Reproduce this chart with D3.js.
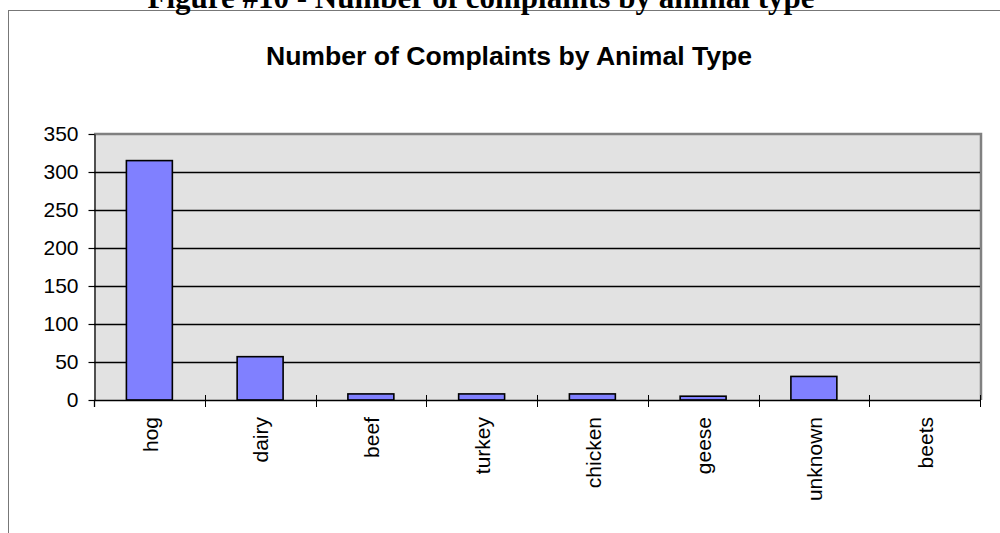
<!DOCTYPE html>
<html><head><meta charset="utf-8">
<script src="https://cdn.jsdelivr.net/npm/d3@7"></script>
<style>body{margin:0;background:#fff;}svg{display:block;}</style>
</head><body>
<svg id="c" width="1000" height="533"></svg>
<script>
const categories = ["hog","dairy","beef","turkey","chicken","geese","unknown","beets"];
const complaints = [315, 57, 8, 8, 8, 5, 31, 0];
const yTicks = [0, 50, 100, 150, 200, 250, 300, 350];
const figureTitle = "Figure #10 - Number of complaints by animal type";
const chartTitle = "Number of Complaints by Animal Type";

const svg = d3.select("#c");
const L = 94, R = 980, T = 134, B = 400;

// outer chart frame
svg.append("rect").attr("x", 8.5).attr("y", 10.5).attr("width", 1100).attr("height", 600)
  .attr("fill", "#fff").attr("stroke", "#777").attr("stroke-width", 1);

// figure caption (clipped at the top edge, as in the source)
svg.append("text").attr("x", 481).attr("y", 7.5).attr("text-anchor", "middle")
  .attr("font-family", "Liberation Serif, Times New Roman, serif").attr("font-weight", "bold")
  .attr("font-size", 31).attr("fill", "#000").text(figureTitle);

// chart title
svg.append("text").attr("x", 509).attr("y", 65).attr("text-anchor", "middle")
  .attr("font-family", "Liberation Sans, Arial, sans-serif").attr("font-weight", "bold")
  .attr("font-size", 26.6).attr("fill", "#000").text(chartTitle);

const x = d3.scaleBand().domain(categories).range([L, R]).paddingInner(0.585).paddingOuter(0.2925);
const xCat = d3.scaleBand().domain(categories).range([L, R]).padding(0);
const y = d3.scaleLinear().domain([0, 350]).range([B, T]);

// plot area
svg.append("rect").attr("x", L).attr("y", T).attr("width", R - L).attr("height", B - T)
  .attr("fill", "#e2e2e2");
svg.append("path").attr("d", `M${L},${T}H${R + 1}V${B}`).attr("fill", "none")
  .attr("stroke", "#808080").attr("stroke-width", 2.5);

// gridlines
svg.append("g").selectAll("line").data(yTicks.filter(d => d > 0 && d < 350)).join("line")
  .attr("x1", L).attr("x2", R).attr("y1", d => Math.round(y(d)) + 0.5).attr("y2", d => Math.round(y(d)) + 0.5)
  .attr("stroke", "#000").attr("stroke-width", 1.3);

// bars
svg.append("g").selectAll("rect").data(categories).join("rect")
  .attr("x", d => x(d)).attr("width", x.bandwidth())
  .attr("y", (d, i) => y(complaints[i])).attr("height", (d, i) => B - y(complaints[i]))
  .attr("fill", "#8080ff").attr("stroke", "#000").attr("stroke-width", 1.6)
  .attr("display", (d, i) => complaints[i] > 0 ? null : "none");

// y axis
const yAxis = svg.append("g").attr("transform", `translate(${L + 0.5},0)`)
  .call(d3.axisLeft(y).tickValues(yTicks).tickSize(6).tickPadding(10).tickSizeOuter(0));
yAxis.select(".domain").attr("stroke", "#000").attr("stroke-width", 1.3);
yAxis.selectAll(".tick line").attr("stroke", "#000").attr("stroke-width", 1.2);
yAxis.selectAll("text").attr("font-family", "Liberation Sans, Arial, sans-serif")
  .attr("font-size", 21).attr("fill", "#000");
svg.append("line").attr("x1", L + 0.5).attr("x2", L + 0.5).attr("y1", B).attr("y2", B + 7)
  .attr("stroke", "#000").attr("stroke-width", 1.3);

// x axis line + boundary ticks
svg.append("line").attr("x1", L).attr("x2", R).attr("y1", B + 0.5).attr("y2", B + 0.5)
  .attr("stroke", "#000").attr("stroke-width", 1.5);
const bounds = categories.map(c => xCat(c)).concat([R]);
svg.append("g").selectAll("line").data(bounds.slice(1)).join("line")
  .attr("x1", d => Math.round(d) + 0.5).attr("x2", d => Math.round(d) + 0.5).attr("y1", B - 5).attr("y2", B + 7)
  .attr("stroke", "#000").attr("stroke-width", 1);

// category labels
svg.append("g").selectAll("text").data(categories).join("text")
  .attr("transform", d => `translate(${xCat(d) + xCat.bandwidth() / 2 + 1},417) rotate(-90)`)
  .attr("text-anchor", "end").attr("dy", "0.35em")
  .attr("font-family", "Liberation Sans, Arial, sans-serif").attr("font-size", 21)
  .attr("fill", "#000").text(d => d);
</script>
</body></html>
